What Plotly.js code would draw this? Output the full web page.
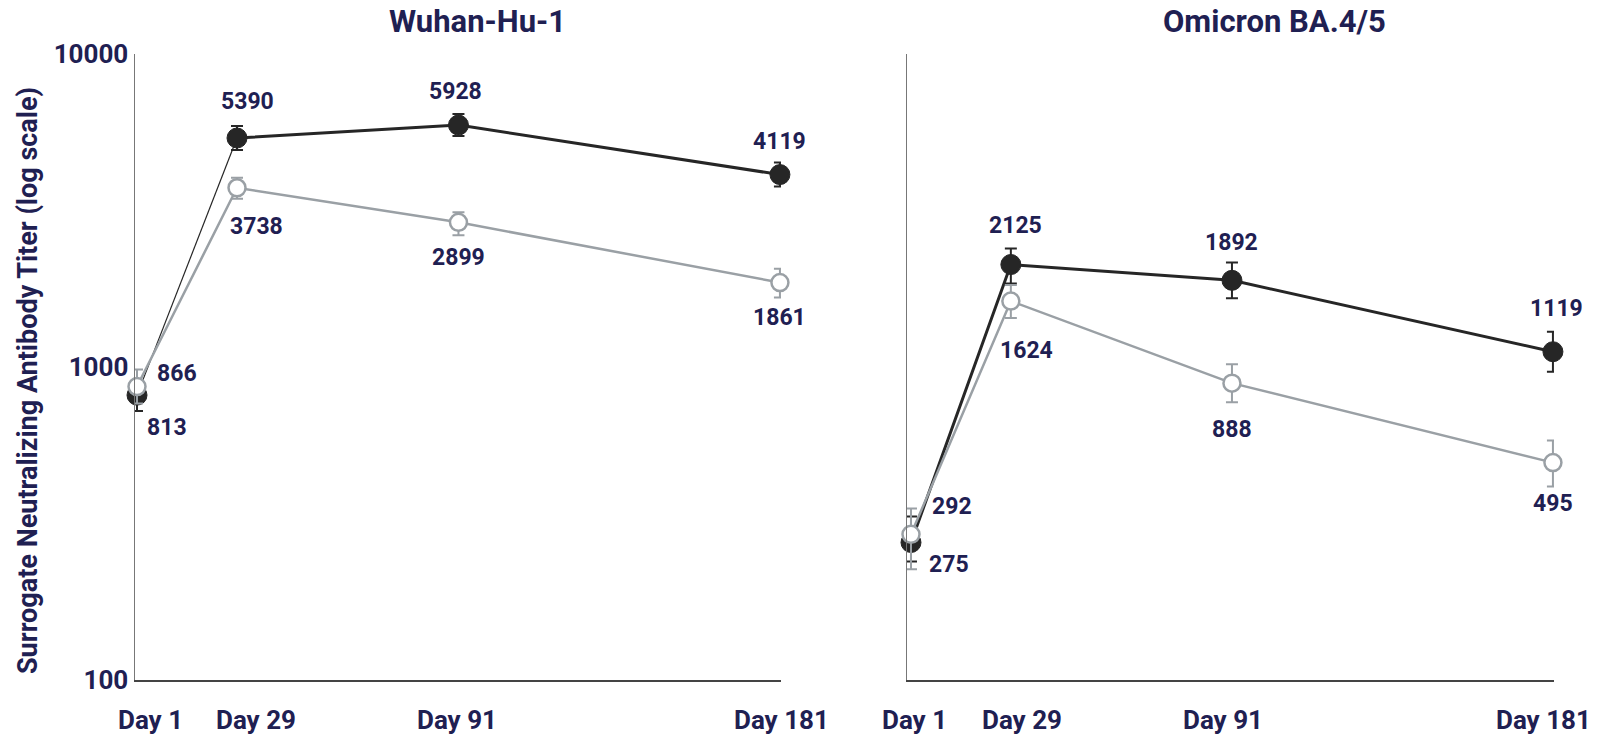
<!DOCTYPE html>
<html>
<head>
<meta charset="utf-8">
<script src="https://cdn.plot.ly/plotly-3.0.1.min.js"></script>
<style>
  html, body { margin: 0; padding: 0; background: #ffffff; }
  #chart { width: 1599px; height: 737px; }
</style>
</head>
<body>
<div id="chart"></div>
<script>
// ---------- data ----------
const days = [1, 29, 91, 181];
const dayLabels = ['Day 1', 'Day 29', 'Day 91', 'Day 181'];
const yTickVals = [100, 1000, 10000];
const yTickText = ['100', '1000', '10000'];
const panelTitles = ['Wuhan-Hu-1', 'Omicron BA.4/5'];
const yTitle = 'Surrogate Neutralizing Antibody Titer (log scale)';

// Wuhan-Hu-1, filled (dark) series
const wuhanFilled = [813, 5390, 5928, 4119];
const wuhanFilledUpper = [901, 5886, 6426, 4498];
const wuhanFilledLower = [723, 4936, 5468, 3772];
// Wuhan-Hu-1, open (grey) series
const wuhanOpen = [866, 3738, 2899, 1861];
const wuhanOpenUpper = [981, 4022, 3119, 2062];
const wuhanOpenLower = [764, 3448, 2635, 1668];

// Omicron BA.4/5, filled (dark) series
const omicronFilled = [275, 2125, 1892, 1119];
const omicronFilledUpper = [333, 2391, 2159, 1296];
const omicronFilledLower = [239, 1848, 1658, 966];
// Omicron BA.4/5, open (grey) series
const omicronOpen = [292, 1624, 888, 495];
const omicronOpenUpper = [353, 1827, 1021, 582];
const omicronOpenLower = [226, 1433, 772, 415];

// ---------- styles ----------
const NAVY = '#1f2052';
const DARK = '#262626';
const GREY = '#9aa0a5';
const FONT = 'Roboto, "Open Sans", sans-serif';

// label offsets in pixels [xshift, yshift] (styling only)
const offs = {
  wuhanFilled:   [[30, -32], [10, 37], [-3, 34], [0, 33]],
  wuhanOpen:     [[40, 13], [19, -39], [0, -35], [0, -35]],
  omicronFilled: [[38, -22], [5, 39], [0, 38], [4, 43]],
  omicronOpen:   [[41, 28], [16, -49], [0, -46], [0, -41]]
};
// x tick label horizontal nudges in pixels (styling only)
const tickShiftLeft = [13, 19, -1, 2];
const tickShiftRight = [4, 11, -9, -9];

function plus(v, up) { return v.map((d, i) => up[i] - d); }
function minus(v, lo) { return v.map((d, i) => d - lo[i]); }

function markerTrace(vals, up, lo, xa, ya, filled) {
  const col = filled ? DARK : GREY;
  return {
    type: 'scatter', mode: 'markers', x: days, y: vals, xaxis: xa, yaxis: ya,
    cliponaxis: false, showlegend: false, hoverinfo: 'x+y',
    marker: filled
      ? { symbol: 'circle', size: 20, color: DARK, line: { color: DARK, width: 1 } }
      : { symbol: 'circle', size: 17, color: '#ffffff', line: { color: GREY, width: 2.5 } },
    error_y: { type: 'data', symmetric: false, array: plus(vals, up), arrayminus: minus(vals, lo),
               color: col, thickness: 2, width: 6 }
  };
}
function lineTrace(xs, vals, xa, ya, color, width) {
  return {
    type: 'scatter', mode: 'lines', x: xs, y: vals, xaxis: xa, yaxis: ya,
    cliponaxis: false, showlegend: false, hoverinfo: 'skip',
    line: { color: color, width: width }
  };
}

const traces = [
  // Wuhan filled: first segment thin, rest thick
  lineTrace(days.slice(0, 2), wuhanFilled.slice(0, 2), 'x', 'y', DARK, 1.2),
  lineTrace(days.slice(1), wuhanFilled.slice(1), 'x', 'y', DARK, 3),
  markerTrace(wuhanFilled, wuhanFilledUpper, wuhanFilledLower, 'x', 'y', true),
  lineTrace(days, wuhanOpen, 'x', 'y', GREY, 2.5),
  markerTrace(wuhanOpen, wuhanOpenUpper, wuhanOpenLower, 'x', 'y', false),
  // Omicron
  lineTrace(days, omicronFilled, 'x2', 'y2', DARK, 3),
  markerTrace(omicronFilled, omicronFilledUpper, omicronFilledLower, 'x2', 'y2', true),
  lineTrace(days, omicronOpen, 'x2', 'y2', GREY, 2.5),
  markerTrace(omicronOpen, omicronOpenUpper, omicronOpenLower, 'x2', 'y2', false)
];

const annotations = [];
function addLabels(vals, xr, yr, off) {
  vals.forEach((v, i) => {
    annotations.push({
      x: days[i], y: Math.log10(v), xref: xr, yref: yr, text: String(v),
      showarrow: false, xanchor: 'center', yanchor: 'middle',
      xshift: off[i][0], yshift: off[i][1],
      font: { family: FONT, size: 23, color: NAVY, weight: 700 }
    });
  });
}
addLabels(wuhanFilled, 'x', 'y', offs.wuhanFilled);
addLabels(wuhanOpen, 'x', 'y', offs.wuhanOpen);
addLabels(omicronFilled, 'x2', 'y2', offs.omicronFilled);
addLabels(omicronOpen, 'x2', 'y2', offs.omicronOpen);

// x-axis category labels (drawn as annotations so each can be nudged)
const tickFont = { family: FONT, size: 26, color: NAVY, weight: 700 };
function addDayLabels(xr, shifts) {
  dayLabels.forEach((t, i) => {
    annotations.push({
      x: days[i], y: 1 - 720 / 737, xref: xr, yref: 'paper', text: t,
      showarrow: false, xanchor: 'center', yanchor: 'middle', xshift: shifts[i],
      font: tickFont
    });
  });
}
addDayLabels('x', tickShiftLeft);
addDayLabels('x2', tickShiftRight);

// panel titles
annotations.push({
  x: 478 / 1599, y: 1 - 22 / 737, xref: 'paper', yref: 'paper', text: panelTitles[0],
  showarrow: false, xanchor: 'center', yanchor: 'middle',
  font: { family: FONT, size: 31, color: NAVY, weight: 700 }
});
annotations.push({
  x: 1274 / 1599, y: 1 - 22 / 737, xref: 'paper', yref: 'paper', text: panelTitles[1],
  showarrow: false, xanchor: 'center', yanchor: 'middle',
  font: { family: FONT, size: 31, color: NAVY, weight: 700 }
});
// y axis title
annotations.push({
  x: 28 / 1599, y: 1 - 381 / 737, xref: 'paper', yref: 'paper', text: yTitle,
  showarrow: false, xanchor: 'center', yanchor: 'middle', textangle: -90,
  font: { family: FONT, size: 27, color: NAVY, weight: 700 }
});

const yDomain = [57 / 737, 683 / 737];

function xAxis(domain, range, anchor) {
  return {
    domain: domain, range: range, anchor: anchor,
    showline: true, linecolor: '#444444', linewidth: 1.5,
    showgrid: false, zeroline: false, ticks: '',
    tickmode: 'array', tickvals: days, ticktext: dayLabels,
    showticklabels: false, fixedrange: true
  };
}
function yAxis(anchor, showLabels) {
  return {
    type: 'log', range: [2, 4], domain: yDomain, anchor: anchor,
    showline: true, linecolor: '#777777', linewidth: 1.5,
    showgrid: false, zeroline: false, ticks: '',
    tickmode: 'array', tickvals: yTickVals, ticktext: yTickText,
    showticklabels: showLabels, tickfont: tickFont, ticklabelstandoff: 0, fixedrange: true
  };
}

const layout = {
  width: 1599, height: 737,
  margin: { l: 0, r: 0, t: 0, b: 0, pad: 0 },
  paper_bgcolor: '#ffffff', plot_bgcolor: '#ffffff',
  showlegend: false,
  xaxis: xAxis([135 / 1599, 781 / 1599], [0.44, 181.3], 'y'),
  yaxis: yAxis('x', true),
  xaxis2: xAxis([907 / 1599, 1554 / 1599], [-0.12, 181.3], 'y2'),
  yaxis2: yAxis('x2', false),
  annotations: annotations
};

Plotly.newPlot('chart', traces, layout, { displayModeBar: false, staticPlot: true });
</script>
</body>
</html>
